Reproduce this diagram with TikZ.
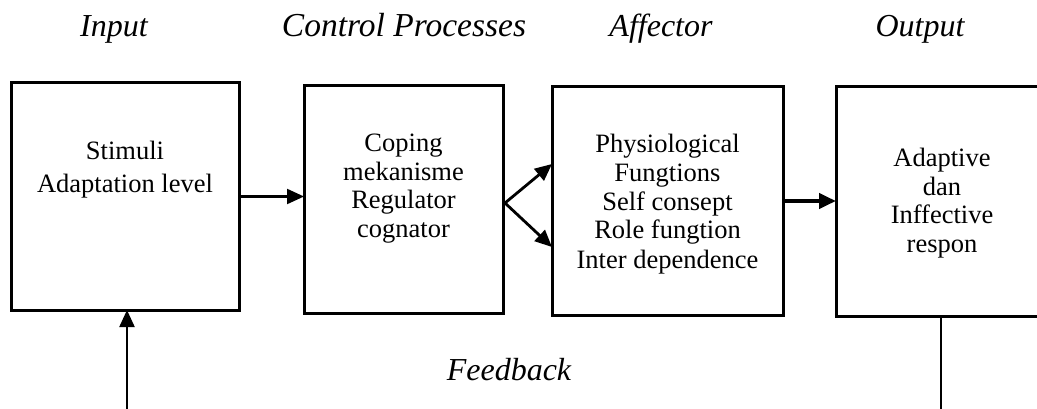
\documentclass[tikz,border=0pt]{standalone}
\usepackage{fontspec}
\setmainfont{Liberation Serif}
\usetikzlibrary{arrows.meta,calc}

\tikzset{
  block/.style={draw, line width=3pt, inner sep=0pt, outer sep=0pt, rectangle},
  body/.style={align=center, inner sep=0pt, anchor=base, font=\fontsize{26.5}{28.5}\selectfont},
  head/.style={inner sep=0pt, anchor=base, font=\fontsize{32}{36}\selectfont\itshape},
  tip/.style={-{Triangle[length=17pt,width=15pt]}},
  flow/.style={tip, line width=2.2pt},
}

\begin{document}
\begin{tikzpicture}[x=1pt, y=-1pt]
  \useasboundingbox (0,0) rectangle (1037,409);
  \fill[white] (0,0) rectangle (1037,409);
  \begin{scope}
    \clip (0,0) rectangle (1037,409);

    % column headings
    \node[head] (hin)  at (114,37) {Input};
    \node[head, font=\fontsize{33.5}{36}\selectfont\itshape] (hcp) at (404,37) {Control Processes};
    \node[head] (haf)  at (661,37) {Affector};
    \node[head] (hout) at (920,37) {Output};

    % the four stages
    \node[block, minimum width=228pt, minimum height=227pt] (b1) at (125,196.5) {};
    \node[block, minimum width=199pt, minimum height=227pt] (b2) at (403.5,199.5) {};
    \node[block, minimum width=231pt, minimum height=228pt] (b3) at (667.5,201) {};
    \node[block, minimum width=214pt, minimum height=229pt] (b4) at (943,201.5) {};

    % stage contents (anchored on the baseline of the last line)
    \node[body, font=\fontsize{26.5}{33}\selectfont] (t1) at (125,193) {Stimuli\\Adaptation level};
    \node[body] (t2) at (403.5,237) {Coping\\mekanisme\\Regulator\\cognator};
    \node[body, font=\fontsize{26.5}{29}\selectfont] (t3) at (667.5,268) {Physiological\\Fungtions\\Self consept\\Role fungtion\\Inter dependence};
    \node[body] (t4) at (942,252) {Adaptive\\dan\\Inffective\\respon};

    % forward connections
    \draw[flow] (b1.east) -- (b1.east -| b2.west);
    \coordinate (fork) at (505,203);
    \draw[tip, line width=2.8pt] (fork) -- ($(b3.west)+(0,-37)$);
    \draw[tip, line width=2.8pt] (fork) -- ($(b3.west)+(0,46)$);
    \draw[tip, line width=4pt] (b3.east) -- (b3.east -| b4.west);

    % feedback loop
    \node[head] (fb) at (509,380) {Feedback};
    \coordinate (fbR) at (941,415);
    \coordinate (fbL) at (127,415);
    \draw[line width=2.4pt] (b4.south -| fbR) -- (fbR);
    \draw[flow] (fbL) -- (fbL |- b1.south);
  \end{scope}
\end{tikzpicture}
\end{document}
